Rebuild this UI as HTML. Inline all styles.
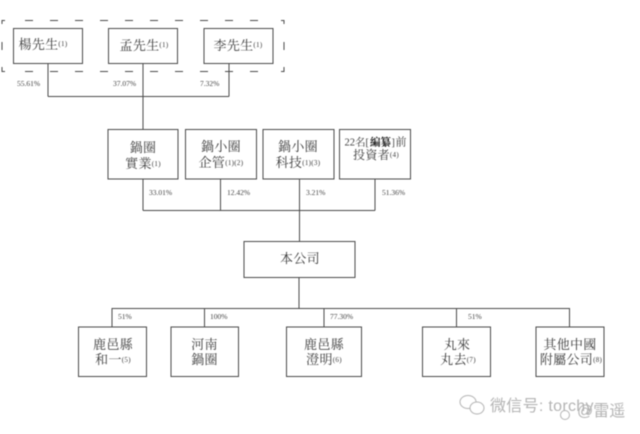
<!DOCTYPE html>
<html><head><meta charset="utf-8">
<style>
html,body{margin:0;padding:0;background:#fff}
svg{display:block;filter:blur(.5px)}
text{font-family:"Liberation Serif","Noto Serif CJK SC",serif;fill:#3a3a3a}
.t{font-size:13px;text-anchor:middle;letter-spacing:.3px}
.s{font-size:7px}
.p{font-size:7.5px;fill:#444}
.w{font-family:"Liberation Sans","Noto Sans CJK SC",sans-serif;fill:#b4b4b4}
</style></head><body>
<svg width="640" height="434" viewBox="0 0 640 434" xmlns="http://www.w3.org/2000/svg">
<rect width="640" height="434" fill="#fff"/>
<g fill="none" stroke="#4a4a4a" stroke-width="1">
<path d="M25 20.5H270M25 71.5H270" stroke-dasharray="8 17"/>
<path d="M2 24V20.5H5M281 20.5H284V24M284 67V71.5H281M5 71.5H2V67M2 42V50M284 42V50"/>
<rect x="13.5" y="28.5" width="69" height="35" fill="#fff"/>
<rect x="108.5" y="28.5" width="69" height="35" fill="#fff"/>
<rect x="204" y="28.5" width="69" height="35" fill="#fff"/>
<rect x="108" y="129.5" width="70" height="49.5"/>
<rect x="185.5" y="129.5" width="71" height="49.5"/>
<rect x="263" y="129.5" width="71" height="49.5"/>
<rect x="339.5" y="129.5" width="71" height="49.5"/>
<rect x="244" y="241.5" width="111" height="36"/>
<rect x="78.5" y="327" width="68" height="49.5"/>
<rect x="171" y="327" width="67.5" height="49.5"/>
<rect x="286.5" y="327" width="75" height="49.5"/>
<rect x="422.5" y="327" width="68" height="49.5"/>
<rect x="536" y="327" width="68" height="49.5"/>
<path d="M48 64V96.5M143 64V129M229 64V96.5M48 96.5H229"/>
<path d="M143 179V210.5M220.5 179V210.5M299.5 179V241M375 179V210.5M143 210.5H375"/>
<path d="M299 277V308.5M112 308.5H569.5M112 308V327M204.5 308V327M324 308V327M456.5 308V327M569.5 308V327"/>
</g>
<text class="t" x="43" y="49">楊先生<tspan class="s" dy="-3">(1)</tspan></text>
<text class="t" x="144" y="50">孟先生<tspan class="s" dy="-3">(1)</tspan></text>
<text class="t" x="238" y="50">李先生<tspan class="s" dy="-3">(1)</tspan></text>
<text class="p" x="17" y="86">55.61%</text>
<text class="p" x="113" y="86">37.07%</text>
<text class="p" x="200" y="86">7.32%</text>
<text class="t" x="143" y="152">鍋圈</text>
<text class="t" x="143" y="168">實業<tspan class="s" dy="-2">(1)</tspan></text>
<text class="t" x="221" y="151">鍋小圈</text>
<text class="t" x="221" y="167">企管<tspan class="s" dy="-2">(1)(2)</tspan></text>
<text class="t" x="298" y="151">鍋小圈</text>
<text class="t" x="298" y="167">科技<tspan class="s" dy="-2">(1)(3)</tspan></text>
<text x="344.5" y="145.5" font-size="10.5">22名</text>
<text x="365.5" y="145.5" font-size="10">[</text>
<text x="370" y="145.5" font-size="10.5" font-weight="bold" style="fill:#111">編纂</text>
<text x="391.5" y="145.5" font-size="10">]</text>
<text x="395.5" y="145.5" font-size="11">前</text>
<text class="t" x="376" y="159" style="font-size:12px">投資者<tspan class="s" dy="-2">(4)</tspan></text>
<text class="p" x="149" y="195">33.01%</text>
<text class="p" x="227" y="195">12.42%</text>
<text class="p" x="306" y="195">3.21%</text>
<text class="p" x="382" y="195">51.36%</text>
<text class="t" x="300" y="263">本公司</text>
<text class="p" x="118" y="319">51%</text>
<text class="p" x="210" y="319">100%</text>
<text class="p" x="330" y="319">77.30%</text>
<text class="p" x="468" y="319">51%</text>
<text class="t" x="113" y="349">鹿邑縣</text>
<text class="t" x="113" y="364">和一<tspan class="s" dy="-2">(5)</tspan></text>
<text class="t" x="204.5" y="349">河南</text>
<text class="t" x="204.5" y="364">鍋圈</text>
<text class="t" x="324" y="349">鹿邑縣</text>
<text class="t" x="324" y="364">澄明<tspan class="s" dy="-2">(6)</tspan></text>
<text class="t" x="457" y="349">丸來</text>
<text class="t" x="458" y="364">丸去<tspan class="s" dy="-2">(7)</tspan></text>
<text class="t" x="570" y="349">其他中國</text>
<text class="t" x="571" y="364">附屬公司<tspan class="s" dy="-2">(8)</tspan></text>
<g fill="#fff" stroke="#b4b4b4" stroke-width="1">
<ellipse cx="468" cy="402" rx="8" ry="6.5"/>
<ellipse cx="477" cy="408" rx="7" ry="6"/>
<circle cx="565" cy="415" r="4.5"/>
</g>
<text class="w" x="490" y="411" font-size="16" letter-spacing=".3">微信号: torchy</text>
<text class="w" x="577" y="416" font-size="16">@雷遥</text>
</svg>
</body></html>
